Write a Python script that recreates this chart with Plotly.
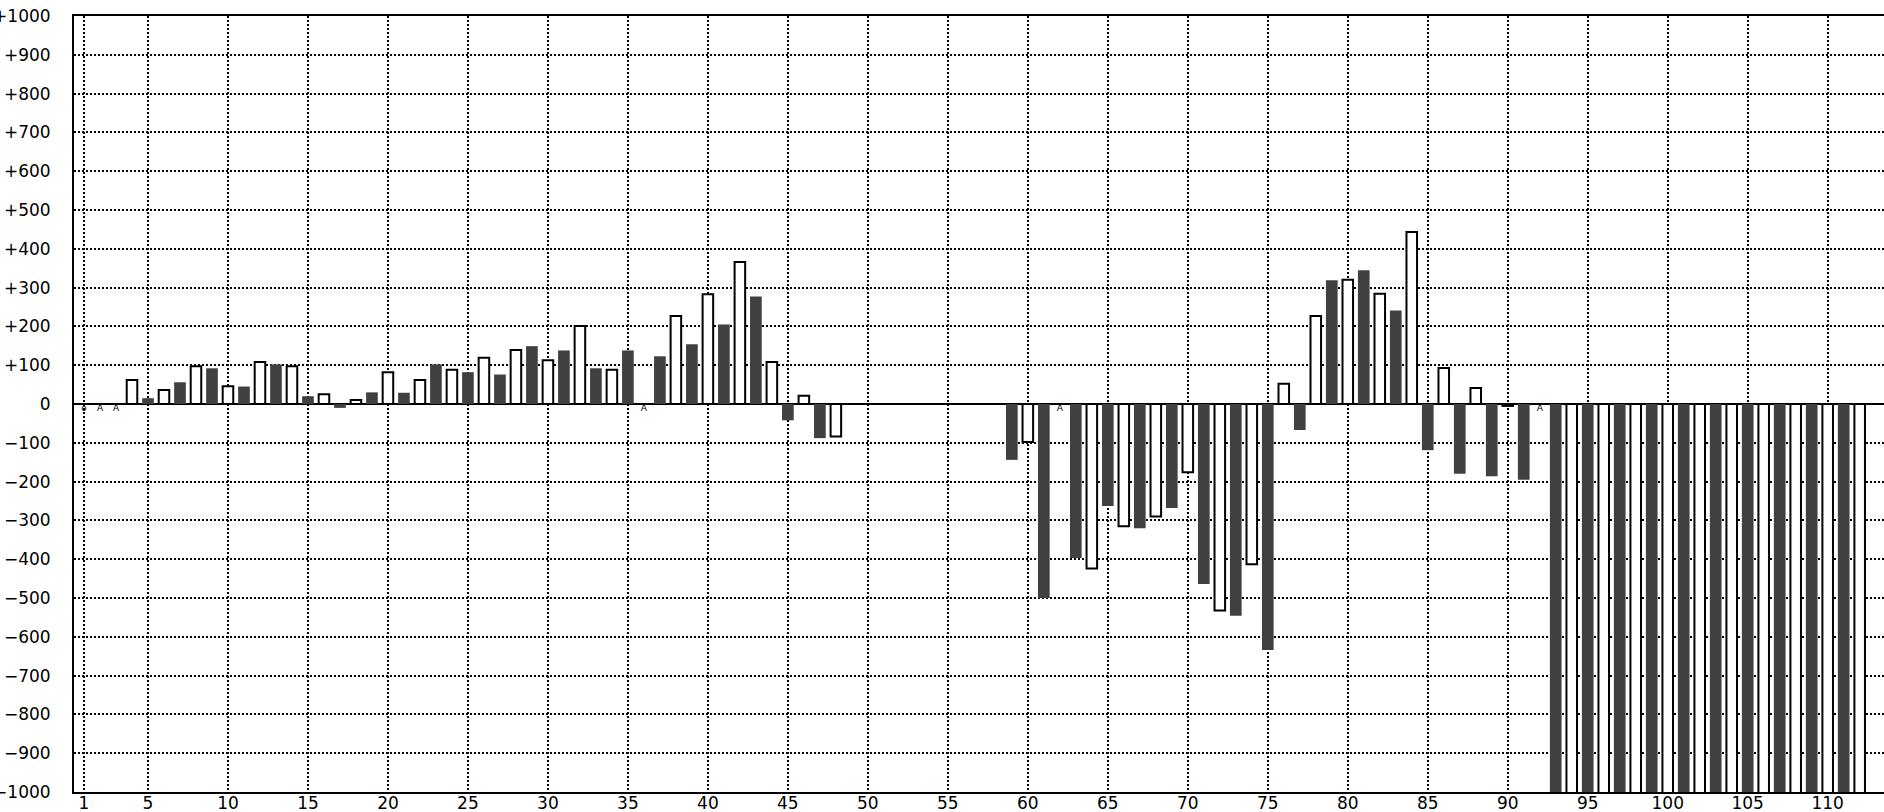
import plotly.graph_objects as go

# ---- data ----
positions = list(range(1, 113))
# value per position (None = no bar)
values = {
    4: 62, 5: 15, 6: 36, 7: 56, 8: 97, 9: 92, 10: 46, 11: 45, 12: 108, 13: 102,
    14: 97, 15: 20, 16: 25, 17: -10, 18: 10, 19: 30, 20: 82, 21: 29, 22: 62,
    23: 102, 24: 88, 25: 82, 26: 119, 27: 76, 28: 139, 29: 149, 30: 113, 31: 138,
    32: 201, 33: 92, 34: 88, 35: 138, 37: 123, 38: 227, 39: 154, 40: 283,
    41: 205, 42: 366, 43: 277, 44: 108, 45: -42, 46: 21, 47: -88, 48: -84,
    59: -144, 60: -98, 61: -500, 63: -397, 64: -424, 65: -263, 66: -315,
    67: -320, 68: -290, 69: -268, 70: -176, 71: -464, 72: -532, 73: -546,
    74: -413, 75: -634, 76: 52, 77: -67, 78: 227, 79: 319, 80: 320, 81: 345,
    82: 284, 83: 241, 84: 443, 85: -119, 86: 93, 87: -180, 88: 41, 89: -186,
    90: -5, 91: -195,
    93: -1200, 94: -1200, 95: -1200, 96: -1200, 97: -1200, 98: -1200,
    99: -1200, 100: -1200, 101: -1200, 102: -1200, 103: -1200, 104: -1200,
    105: -1200, 106: -1200, 107: -1200, 108: -1200, 109: -1200, 110: -1200,
    111: -1200, 112: -1200,
}
missing_x = [1, 2, 3, 36, 62, 92]
missing_sym = ["ȯ", "Ȧ", "Ȧ", "Ȧ", "Ȧ", "Ȧ"]

x_ticks = [1] + list(range(5, 111, 5))
y_ticks = list(range(-1000, 1001, 100))
y_ticktext = [("+%d" % v) if v > 0 else ("0" if v == 0 else "\u2212%d" % -v) for v in y_ticks]

white_x = [p for p in positions if p % 2 == 0 and p in values]
white_y = [values[p] for p in white_x]
dark_x = [p for p in positions if p % 2 == 1 and p in values]
dark_y = [values[p] for p in dark_x]

fig = go.Figure()
fig.add_trace(go.Bar(x=dark_x, y=dark_y, width=0.73,
                     marker=dict(color="#404040", line=dict(width=0))))
fig.add_trace(go.Bar(x=white_x, y=white_y, width=0.66,
                     marker=dict(color="white", line=dict(color="black", width=2))))
fig.add_trace(go.Scatter(x=missing_x, y=[0] * len(missing_x), mode="text",
                         text=missing_sym, textposition="bottom center",
                         textfont=dict(family="DejaVu Sans", size=9, color="black"),
                         cliponaxis=False))

fig.update_layout(
    width=1884, height=812,
    margin=dict(l=74, r=0, t=16, b=20, pad=0),
    paper_bgcolor="white", plot_bgcolor="white",
    barmode="overlay", showlegend=False,
    font=dict(family="DejaVu Sans", size=17, color="black"),
)
fig.update_xaxes(
    range=[0.375, 113.52], tickmode="array", tickvals=x_ticks,
    ticktext=[str(v) for v in x_ticks],
    showgrid=True, gridcolor="black", gridwidth=2, griddash="2px,2px",
    showline=True, linecolor="black", linewidth=2, mirror=True,
    ticks="", zeroline=False, automargin=False, ticklabelstandoff=-5,
)
fig.update_yaxes(
    range=[-1000, 1000], tickmode="array", tickvals=y_ticks, ticktext=y_ticktext,
    showgrid=True, gridcolor="black", gridwidth=2, griddash="2px,2px",
    showline=True, linecolor="black", linewidth=2, mirror=False,
    zeroline=True, zerolinecolor="black", zerolinewidth=2,
    ticks="", automargin=False, ticklabelstandoff=18,
)

fig.write_html(
    "out.html",
    config={"displayModeBar": False},
    post_script="document.body.style.margin='0';document.body.style.overflow='hidden';",
)
